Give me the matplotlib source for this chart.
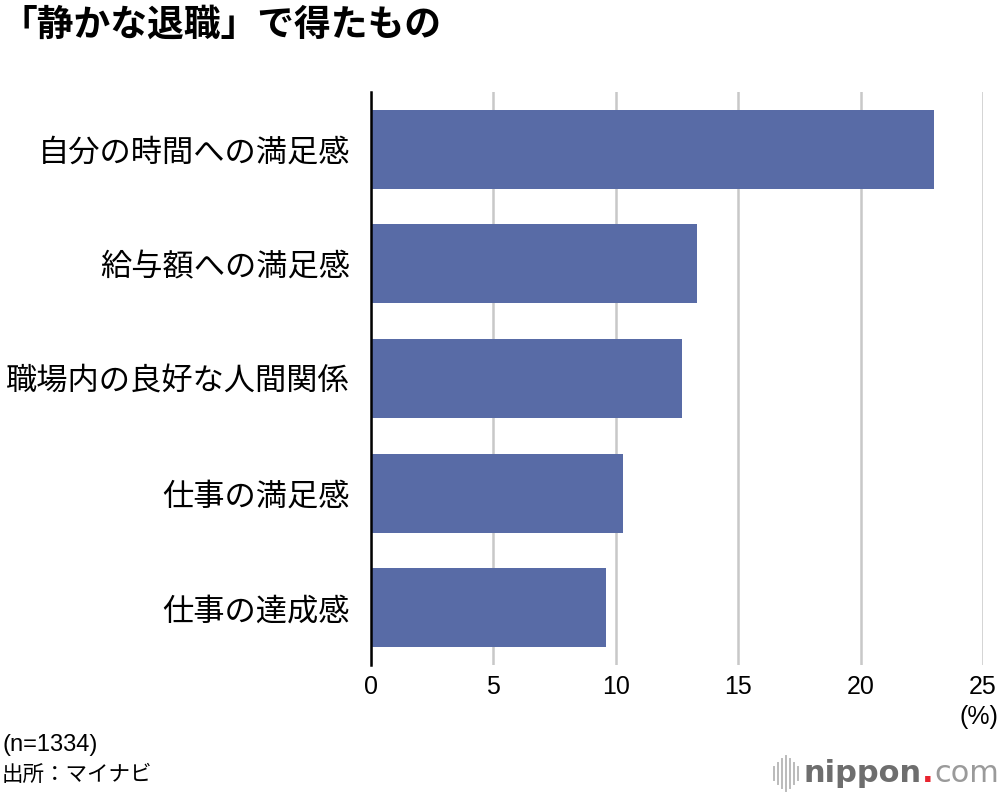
import matplotlib
matplotlib.use("Agg")
import matplotlib.pyplot as plt
from matplotlib.lines import Line2D

plt.rcParams['font.family'] = ['Noto Sans CJK JP', 'DejaVu Sans']

categories = ["自分の時間への満足感", "給与額への満足感", "職場内の良好な人間関係", "仕事の満足感", "仕事の達成感"]
values = [23.0, 13.3, 12.7, 10.3, 9.6]
xticks = [0, 5, 10, 15, 20, 25]
title = "「静かな退職」で得たもの"
note1 = "(n=1334)"
note2 = "出所：マイナビ"

bar_color = "#586ba6"
latin = ["Liberation Sans", "Noto Sans CJK JP"]

fig = plt.figure(figsize=(10, 7.96), dpi=100)
ax = fig.add_axes([0.371, 0.1646, 0.612, 0.7198])

y = list(range(len(categories)))
ax.barh(y, values, height=0.69, color=bar_color, zorder=3)
ax.set_ylim(len(categories) - 0.5, -0.5)
ax.set_xlim(0, 25)
ax.set_yticks(y)
ax.set_yticklabels(categories, fontsize=22.5)
ax.set_xticks(xticks)
ax.set_xticklabels([str(t) for t in xticks], fontsize=18, family=latin)
ax.tick_params(axis='both', length=0)
ax.tick_params(axis='x', pad=7)
ax.tick_params(axis='y', pad=15)
ax.xaxis.grid(True, color="#c8c8c8", linewidth=1.8, zorder=0)
for s in ["top", "right", "bottom"]:
    ax.spines[s].set_visible(False)
ax.spines["left"].set_color("black")
ax.spines["left"].set_linewidth(1.8)
ax.spines["left"].set_zorder(4)

fig.text(0.998, 0.099, "(%)", ha="right", va="center", fontsize=18, family=latin)
fig.text(0.0, 0.969, title, ha="left", va="center", fontsize=26.5, fontweight="bold")
fig.text(0.002, 0.064, note1, ha="left", va="center", fontsize=17, family=latin)
fig.text(0.002, 0.026, note2, ha="left", va="center", fontsize=15.5)

# logo
fig.text(0.999, 0.028, "com", ha="right", va="center", fontsize=22, color="#9a9a9a",
         family=["DejaVu Sans"])
fig.text(0.928, 0.028, ".", ha="center", va="center", fontsize=22, color="#e8242f",
         family=["DejaVu Sans"], fontweight="bold")
fig.text(0.922, 0.028, "nippon", ha="right", va="center", fontsize=22, color="#6e6e6e",
         family=["DejaVu Sans"], fontweight="bold")
xs = [0.774, 0.778, 0.782, 0.786, 0.790, 0.794, 0.798]
hs = [0.008, 0.013, 0.018, 0.022, 0.018, 0.013, 0.008]
for xx, hh in zip(xs, hs):
    fig.add_artist(Line2D([xx, xx], [0.028 - hh, 0.028 + hh], color="#bbbbbb", linewidth=1.4,
                          transform=fig.transFigure))

fig.savefig("out.png", dpi=100)
